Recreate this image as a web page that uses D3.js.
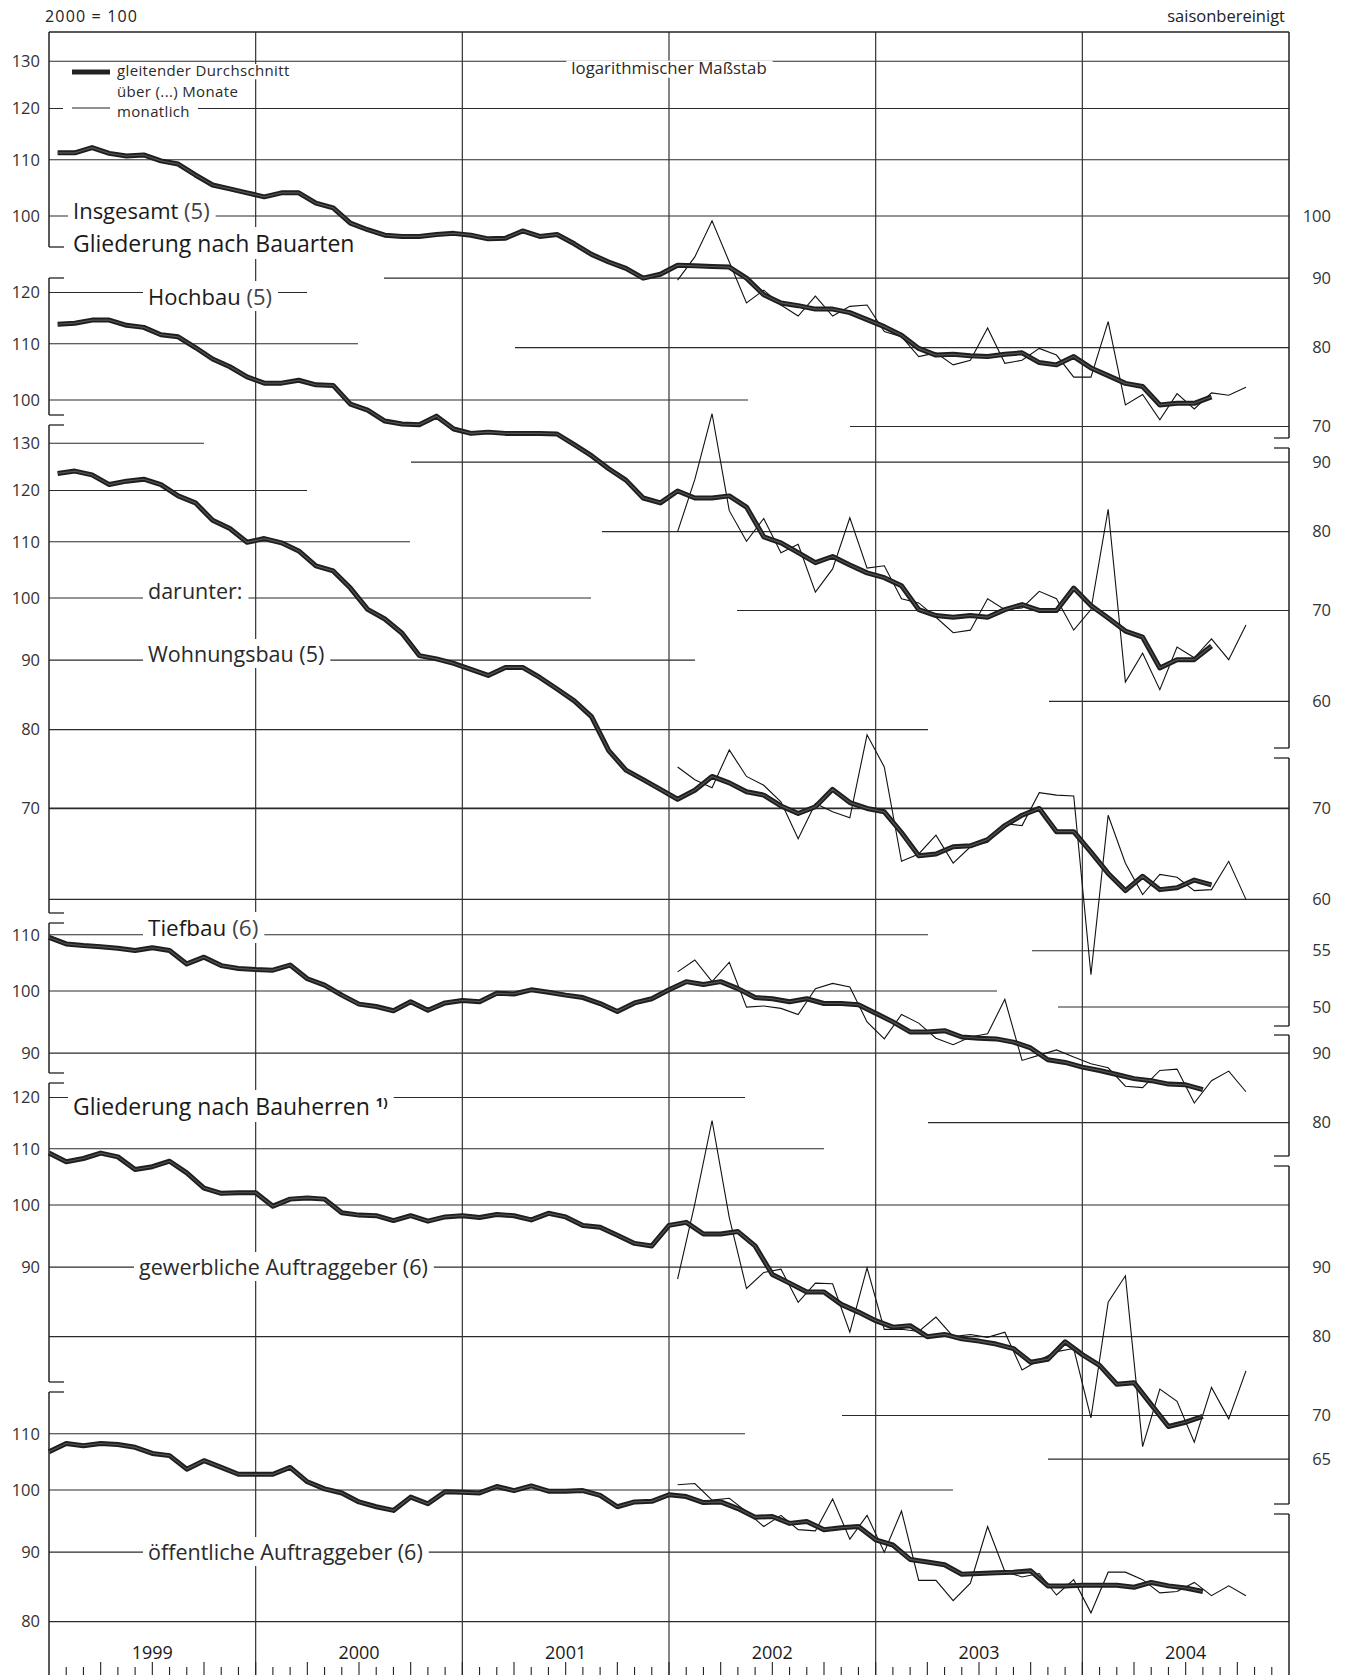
<!DOCTYPE html>
<html>
<head>
<meta charset="utf-8">
<script src="https://cdn.jsdelivr.net/npm/d3@7"></script>
<style>
  body { margin: 0; background: #fff; }
  text { font-family: "Open Sans", "Noto Sans", sans-serif; }
</style>
</head>
<body>
<svg id="chart" width="1349" height="1675"></svg>
<script>
var years = ["1999", "2000", "2001", "2002", "2003", "2004"];
var legendLines = ["gleitender Durchschnitt", "über (...) Monate", "monatlich"];

// gleitender Durchschnitt, Jan 1999 - Aug 2004
var maInsgesamt = [111.3, 111.3, 112.3, 111.2, 110.7, 110.9, 109.8, 109.2, 107.2, 105.4,
  104.7, 104.0, 103.3, 104.0, 104.0, 102.2, 101.4, 98.8, 97.7, 96.8,
  96.6, 96.6, 96.9, 97.1, 96.8, 96.2, 96.3, 97.5, 96.6, 96.9,
  95.4, 93.7, 92.5, 91.5, 90.0, 90.6, 92.0, 91.9, 91.8, 91.7,
  90.0, 87.5, 86.3, 85.9, 85.4, 85.4, 84.9, 83.9, 82.9, 81.7,
  79.9, 79.0, 79.1, 78.9, 78.8, 79.1, 79.3, 78.0, 77.7, 78.8,
  77.3, 76.3, 75.3, 74.9, 72.6, 72.8, 72.8, 73.6];
// monatlich, Jan 2002 - Okt 2004
var moInsgesamt = [89.7, 93.3, 99.2, 92.5, 86.3, 88.2, 86.0, 84.4, 87.3, 84.4, 85.8, 86.0,
  82.2, 81.5, 78.8, 79.3, 77.7, 78.3, 82.7, 77.9, 78.3, 79.9, 79.0, 76.1,
  76.1, 83.6, 72.6, 73.9, 70.8, 74.0, 72.1, 74.1, 73.8, 74.8];

var maHochbau = [113.7, 113.9, 114.5, 114.5, 113.5, 113.1, 111.7, 111.3, 109.3, 107.2,
  105.8, 104.0, 102.9, 102.9, 103.4, 102.6, 102.5, 99.3, 98.3, 96.5,
  96.0, 95.9, 97.3, 95.2, 94.5, 94.7, 94.5, 94.5, 94.5, 94.4,
  92.7, 91.0, 89.0, 87.3, 84.7, 84.0, 85.7, 84.7, 84.7, 85.0,
  83.4, 79.3, 78.5, 77.2, 75.9, 76.7, 75.6, 74.6, 74.0, 73.0,
  70.1, 69.4, 69.2, 69.4, 69.2, 70.1, 70.7, 70.0, 70.0, 72.7,
  70.6, 69.1, 67.6, 66.9, 63.5, 64.4, 64.4, 65.9];
var moHochbau = [80.0, 87.4, 97.7, 82.9, 78.7, 81.8, 77.2, 78.3, 72.2, 75.1, 81.9, 75.2,
  75.5, 71.4, 70.9, 69.2, 67.4, 67.7, 71.4, 70.1, 70.3, 72.3, 71.4, 67.7,
  70.1, 83.1, 62.0, 65.1, 61.2, 65.8, 64.6, 66.7, 64.4, 68.3];

var maWohnungsbau = [123.5, 124.0, 123.2, 121.2, 121.9, 122.3, 121.2, 118.9, 117.5, 114.1,
  112.5, 109.9, 110.6, 109.8, 108.3, 105.6, 104.7, 101.7, 98.1, 96.5,
  94.2, 90.7, 90.2, 89.5, 88.6, 87.7, 88.9, 88.9, 87.4, 85.7,
  84.0, 81.8, 77.2, 74.7, 73.5, 72.3, 71.1, 72.2, 73.9, 73.1,
  72.0, 71.6, 70.3, 69.4, 70.2, 72.3, 70.7, 70.0, 69.6, 67.2,
  64.6, 64.8, 65.6, 65.7, 66.4, 68.0, 69.2, 70.0, 67.3, 67.3,
  65.0, 62.7, 60.9, 62.4, 61.0, 61.2, 62.0, 61.5];
var moWohnungsbau = [75.1, 73.5, 72.5, 77.3, 73.9, 72.8, 70.8, 66.5, 70.6, 69.6, 68.9, 79.3,
  75.1, 64.0, 64.8, 66.9, 63.8, 65.6, 66.1, 68.2, 68.0, 71.9, 71.6, 71.5,
  52.8, 69.2, 63.8, 60.5, 62.6, 62.3, 60.9, 61.0, 64.0, 60.0];

var maTiefbau = [109.5, 108.3, 108.0, 107.8, 107.5, 107.1, 107.6, 107.1, 104.7, 105.9,
  104.4, 103.9, 103.7, 103.6, 104.5, 102.1, 101.0, 99.3, 97.8, 97.4,
  96.7, 98.2, 96.8, 98.0, 98.4, 98.2, 99.6, 99.5, 100.2, 99.8,
  99.3, 98.9, 97.9, 96.6, 98.0, 98.7, 100.2, 101.6, 101.1, 101.6,
  100.4, 98.9, 98.7, 98.2, 98.7, 97.9, 97.9, 97.7, 96.3, 94.9,
  93.3, 93.3, 93.5, 92.5, 92.3, 92.2, 91.7, 90.8, 89.0, 88.6,
  87.9, 87.4, 86.8, 86.2, 85.9, 85.4, 85.3, 84.6];
var moTiefbau = [103.3, 105.4, 101.6, 105.0, 97.3, 97.5, 97.1, 96.1, 100.4, 101.3, 100.7, 94.9,
  92.2, 96.1, 94.7, 92.3, 91.3, 92.5, 93.0, 98.6, 88.9, 89.7, 90.5, 89.4,
  88.4, 87.8, 85.1, 84.9, 87.4, 87.6, 82.7, 85.9, 87.3, 84.3];

var maGewerblich = [109.2, 107.6, 108.2, 109.2, 108.5, 106.2, 106.7, 107.7, 105.6, 102.9,
  102.0, 102.1, 102.1, 99.8, 101.0, 101.2, 101.0, 98.7, 98.3, 98.2,
  97.4, 98.2, 97.3, 98.0, 98.2, 97.9, 98.4, 98.2, 97.5, 98.6,
  98.0, 96.6, 96.3, 95.0, 93.7, 93.3, 96.6, 97.1, 95.2, 95.2,
  95.6, 93.3, 88.9, 87.6, 86.3, 86.3, 84.5, 83.4, 82.2, 81.3,
  81.5, 80.0, 80.3, 79.7, 79.4, 79.0, 78.4, 76.6, 77.0, 79.3,
  77.6, 76.2, 73.8, 74.0, 71.3, 68.7, 69.2, 69.9];
var moGewerblich = [88.2, 100.2, 115.4, 97.9, 86.8, 89.2, 89.7, 84.8, 87.6, 87.5, 80.6, 89.9,
  81.0, 81.0, 80.7, 82.7, 80.0, 80.3, 79.9, 80.6, 75.6, 76.9, 78.0, 78.4,
  69.7, 84.8, 88.7, 66.4, 73.2, 71.7, 66.9, 73.4, 69.6, 75.5];

var maOeffentlich = [106.7, 108.2, 107.8, 108.2, 108.0, 107.5, 106.4, 106.0, 103.6, 105.1,
  103.9, 102.7, 102.7, 102.7, 103.9, 101.4, 100.2, 99.5, 98.0, 97.2,
  96.6, 98.8, 97.7, 99.7, 99.6, 99.5, 100.6, 99.9, 100.7, 99.8,
  99.8, 99.9, 99.1, 97.2, 98.0, 98.1, 99.2, 98.9, 97.9, 98.0,
  96.9, 95.5, 95.6, 94.5, 94.8, 93.5, 93.8, 94.0, 91.9, 91.1,
  88.9, 88.5, 88.1, 86.7, 86.8, 86.9, 87.0, 87.2, 85.0, 85.0,
  85.1, 85.1, 85.1, 84.8, 85.5, 85.0, 84.7, 84.2];
var moOeffentlich = [100.9, 101.1, 98.3, 98.6, 96.4, 94.0, 95.8, 93.5, 93.3, 98.5, 92.0, 95.8,
  90.0, 96.5, 85.8, 85.8, 82.9, 85.4, 94.0, 87.1, 86.3, 86.8, 83.7, 85.9,
  81.2, 87.0, 87.0, 85.9, 84.0, 84.2, 85.5, 83.6, 85.0, 83.6];

var svg = d3.select("#chart");
// note: "top" is reserved on window, so the frame edges get their own names
var frameL = 49, frameR = 1289, frameT = 32, frameB = 1675;

// months since Jan 1999
var x = d3.scaleLinear().domain([0, 72]).range([frameL, frameR]);
var pxPerLn = 590;
function logY(y100) {
  return d3.scaleLog().domain([100, 100 * Math.E]).range([y100, y100 - pxPerLn]);
}

// one log scale per panel; grid = [value, label side, x0, x1, width]
var panels = [
  { y100: 216, span: 5, ma: maInsgesamt, mo: moInsgesamt,
    grid: [[130, "l", frameL, frameR], [120, "l", frameL, frameR], [110, "l", frameL, frameR], [100, "lr", frameL, frameR],
           [90, "r", 384, frameR], [80, "r", 515, frameR], [70, "r", 850, frameR]] },
  { y100: 400, span: 5, ma: maHochbau, mo: moHochbau,
    grid: [[120, "l", frameL, 307], [110, "l", frameL, 358], [100, "l", frameL, 748],
           [90, "r", 411, frameR], [80, "r", 602, frameR], [70, "r", 737, frameR], [60, "r", 1049, frameR]] },
  { y100: 598, span: 5, ma: maWohnungsbau, mo: moWohnungsbau,
    grid: [[130, "l", frameL, 204], [120, "l", frameL, 307], [110, "l", frameL, 410], [100, "l", frameL, 591],
           [90, "l", frameL, 695], [80, "l", frameL, 928], [70, "lr", frameL, frameR, 1.8], [60, "r", frameL, frameR],
           [55, "r", 1032, frameR], [50, "r", 1058, frameR]] },
  { y100: 991, span: 6, ma: maTiefbau, mo: moTiefbau,
    grid: [[110, "l", frameL, 928], [100, "l", frameL, 997], [90, "lr", frameL, frameR], [80, "r", 928, frameR]] },
  { y100: 1205, span: 6, ma: maGewerblich, mo: moGewerblich,
    grid: [[120, "l", frameL, 745], [110, "l", frameL, 824], [100, "l", frameL, frameR], [90, "lr", frameL, frameR],
           [80, "r", frameL, frameR], [70, "r", 842, frameR], [65, "r", 1048, frameR]] },
  { y100: 1490, span: 6, ma: maOeffentlich, mo: moOeffentlich,
    grid: [[110, "l", frameL, 745], [100, "l", frameL, 953], [90, "l", frameL, frameR], [80, "l", frameL, frameR]] }
];
panels.forEach(function(p) { p.y = logY(p.y100); });

var gGrid = svg.append("g");
var gText = svg.append("g");
var gLabels = svg.append("g");
var gData = svg.append("g");

// gridlines + axis numbers
panels.forEach(function(p) {
  p.grid.forEach(function(d) {
    var yy = p.y(d[0]);
    gGrid.append("line").attr("x1", d[2]).attr("x2", d[3]).attr("y1", yy).attr("y2", yy)
      .attr("stroke", "#2b2b2b").attr("stroke-width", d[4] || 1.1);
    if (d[1].indexOf("l") >= 0)
      gText.append("text").attr("x", 40).attr("y", yy).attr("dy", "0.35em")
        .attr("text-anchor", "end").style("font-size", "16.5px").attr("fill", "#333").text(d[0]);
    if (d[1].indexOf("r") >= 0)
      gText.append("text").attr("x", 1331).attr("y", yy).attr("dy", "0.35em")
        .attr("text-anchor", "end").style("font-size", "16.5px").attr("fill", "#333").text(d[0]);
  });
});

// year lines
d3.range(1, 6).forEach(function(k) {
  gGrid.append("line").attr("x1", x(k * 12)).attr("x2", x(k * 12)).attr("y1", frameT).attr("y2", frameB)
    .attr("stroke", "#333").attr("stroke-width", 1.2);
});

// frame with axis breaks
var leftBreaks = [[247, 278], [415, 425], [913, 923], [1073, 1083], [1382, 1392]];
var rightBreaks = [[438, 448], [748, 758], [1026, 1035], [1156, 1166], [1504, 1514]];
gGrid.append("line").attr("x1", frameL).attr("x2", frameR).attr("y1", frameT).attr("y2", frameT)
  .attr("stroke", "#222").attr("stroke-width", 1.5);
function frameSide(xx, breaks, dir) {
  var y0 = frameT;
  breaks.concat([[frameB, frameB]]).forEach(function(b) {
    gGrid.append("line").attr("x1", xx).attr("x2", xx).attr("y1", y0).attr("y2", b[0])
      .attr("stroke", "#222").attr("stroke-width", 1.5);
    if (b[0] < frameB) {
      gGrid.append("line").attr("x1", xx).attr("x2", xx + dir * 15).attr("y1", b[0]).attr("y2", b[0])
        .attr("stroke", "#222").attr("stroke-width", 1.3);
      gGrid.append("line").attr("x1", xx).attr("x2", xx + dir * 15).attr("y1", b[1]).attr("y2", b[1])
        .attr("stroke", "#222").attr("stroke-width", 1.3);
    }
    y0 = b[1];
  });
}
frameSide(frameL, leftBreaks, 1);
frameSide(frameR, rightBreaks, -1);

// month ticks and years
d3.range(1, 72).forEach(function(m) {
  var tall = m % 3 === 0;
  gGrid.append("line").attr("x1", x(m)).attr("x2", x(m)).attr("y1", tall ? 1662 : 1667).attr("y2", frameB)
    .attr("stroke", "#222").attr("stroke-width", 1.1);
});
years.forEach(function(yr, i) {
  gText.append("text").attr("x", x(i * 12 + 6)).attr("y", 1659).attr("text-anchor", "middle")
    .style("font-size", "18px").attr("fill", "#1a1a1a").text(yr);
});

gText.append("text").attr("x", 45).attr("y", 22).style("font-size", "16px").attr("fill", "#222")
  .attr("textLength", 92).attr("lengthAdjust", "spacing").text("2000 = 100");
gText.append("text").attr("x", 1285).attr("y", 22).attr("text-anchor", "end")
  .style("font-size", "16.5px").attr("fill", "#222").text("saisonbereinigt");

// labels with white background that cut the grid
function addLabel(xx, yy, parts, size, opt) {
  opt = opt || {};
  var g = gLabels.append("g");
  var t = g.append("text").attr("x", xx).attr("y", yy).style("font-size", size + "px")
    .attr("text-anchor", opt.anchor || "start");
  parts.forEach(function(p) {
    var s = t.append("tspan").text(p.t).attr("font-weight", p.w || 400).attr("fill", p.c || "#1a1a1a");
    if (p.sup) s.attr("dy", -8).style("font-size", p.sup + "px");
  });
  var b = t.node().getBBox();
  var x0 = b.x - 5;
  var y0 = opt.tight ? yy - size * 0.8 : b.y;
  var h = opt.tight ? size * 1.02 : b.height;
  g.insert("rect", function() { return t.node(); })
    .attr("x", x0).attr("y", y0).attr("width", b.width + 11).attr("height", h)
    .attr("fill", "#fff");
  return g;
}

var light = "#2a2a2a";

// legend: three lines, each with its own white strip
var legSize = 15, legBase = [76, 96.5, 117];
var gLeg = gLabels.append("g");
var legBg = gLeg.append("g");
legendLines.forEach(function(s, i) {
  var t = gLeg.append("text").attr("x", 117).attr("y", legBase[i])
    .style("font-size", legSize + "px").style("letter-spacing", "0.35px").attr("fill", light).text(s);
  var w = t.node().getComputedTextLength();
  legBg.append("rect").attr("x", 63).attr("y", legBase[i] - legSize * 0.8)
    .attr("width", 117 + w + 8 - 63).attr("height", legSize * 1.02).attr("fill", "#fff");
});
gLeg.append("line").attr("x1", 72).attr("x2", 110).attr("y1", 72).attr("y2", 72)
  .attr("stroke", "#222").attr("stroke-width", 5);
gLeg.append("line").attr("x1", 72).attr("x2", 110).attr("y1", 108).attr("y2", 108)
  .attr("stroke", "#222").attr("stroke-width", 1.1);
addLabel(669, 74, [{ t: "logarithmischer Maßstab", c: light }], 16.8, { anchor: "middle", tight: true });

addLabel(73, 219, [{ t: "Insgesamt " }, { t: "(5)", c: "#444" }], 22);
addLabel(73, 252, [{ t: "Gliederung nach Bauarten" }], 23);
addLabel(148, 305, [{ t: "Hochbau " }, { t: "(5)", c: "#444" }], 22);
addLabel(148, 599, [{ t: "darunter:", c: light }], 21.5);
addLabel(148, 662, [{ t: "Wohnungsbau (5)", c: light }], 21.5);
addLabel(148, 936, [{ t: "Tiefbau " }, { t: "(6)", c: "#444" }], 22.5);
addLabel(73, 1115, [{ t: "Gliederung nach Bauherren " }, { t: "1)", w: 700, sup: 13 }], 23);
addLabel(139, 1275, [{ t: "gewerbliche Auftraggeber (6)", c: light }], 21.5);
addLabel(148, 1560, [{ t: "öffentliche Auftraggeber (6)", c: light }], 21.5);

// series
panels.forEach(function(p) {
  var off = p.span === 5 ? 0.5 : 0;
  var lineMo = d3.line().x(function(d, i) { return x(36 + i + 0.5); }).y(function(d) { return p.y(d); });
  var lineMa = d3.line().x(function(d, i) { return x(i + off); }).y(function(d) { return p.y(d); });
  gData.append("path").attr("d", lineMo(p.mo)).attr("fill", "none")
    .attr("stroke", "#111").attr("stroke-width", 1.1).attr("stroke-linejoin", "miter");
  gData.append("path").attr("d", lineMa(p.ma)).attr("fill", "none")
    .attr("stroke", "#1e1e1e").attr("stroke-width", 5).attr("stroke-linejoin", "round");
  gData.append("path").attr("d", lineMa(p.ma)).attr("fill", "none")
    .attr("stroke", "#555").attr("stroke-width", 1.2).attr("stroke-linejoin", "round");
});
</script>
</body>
</html>
